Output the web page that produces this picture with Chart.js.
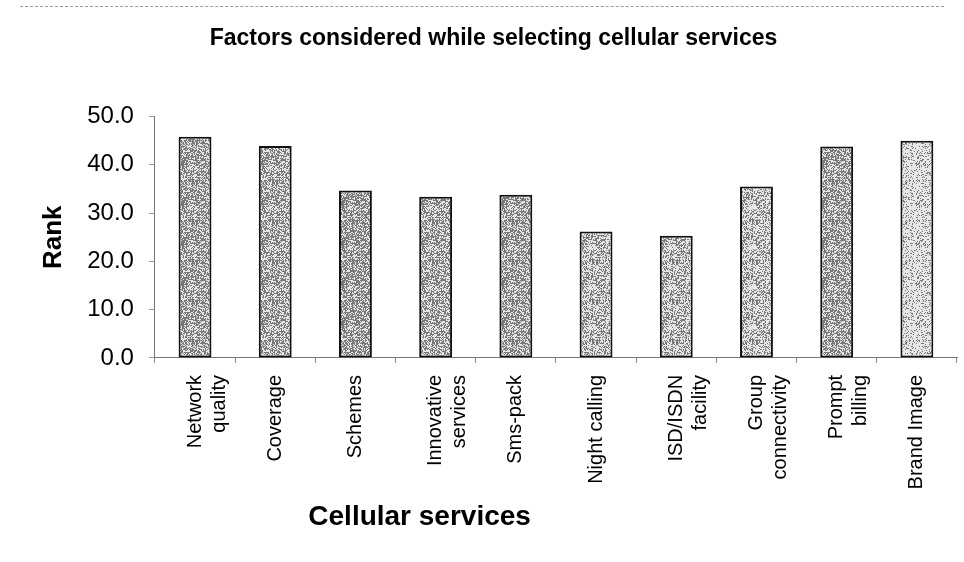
<!DOCTYPE html>
<html>
<head>
<meta charset="utf-8">
<script src="https://cdn.jsdelivr.net/npm/chart.js@4.4.1/dist/chart.umd.min.js"></script>
<style>
  html, body { margin: 0; padding: 0; background: #fff; }
  #wrap { position: relative; width: 964px; height: 562px; }
  #edge { position: absolute; left: 20px; right: 20px; top: 6px; border-top: 1px dashed #9a9a9a; }
</style>
</head>
<body>
<div id="wrap">
  <div id="edge"></div>
  <canvas id="chartCell" width="964" height="562"></canvas>
</div>
<script>
const categories = [
    ['Network', 'quality'], 'Coverage', 'Schemes', ['Innovative', 'services'], 'Sms-pack',
    'Night calling', ['ISD/ISDN', 'facility'], ['Group', 'connectivity'], ['Prompt', 'billing'], 'Brand Image'
];
const rankValues = [45.8, 43.9, 34.7, 33.4, 33.8, 26.2, 25.3, 35.5, 43.8, 45.0];
const yTicks = [0, 10, 20, 30, 40, 50];

// share of dark dots in each bar's stipple
const barShade = [0.55, 0.52, 0.58, 0.52, 0.55, 0.42, 0.42, 0.38, 0.55, 0.22];

// stippled grey fill, like a printed halftone
function stipple(darkness) {
    const c = document.createElement('canvas');
    c.width = 40; c.height = 40;
    const g = c.getContext('2d');
    const img = g.createImageData(40, 40);
    for (let y = 0; y < 40; y++) {
        for (let x = 0; x < 40; x++) {
            const h = (((x * 73856093) ^ (y * 19349663) ^ (x * y * 83492791)) >>> 0) % 1000 / 1000;
            const v = h < darkness ? 120 : 230;
            const i = (y * 40 + x) * 4;
            img.data[i] = img.data[i + 1] = img.data[i + 2] = v;
            img.data[i + 3] = 255;
        }
    }
    g.putImageData(img, 0, 0);
    return g.createPattern(c, 'repeat');
}

// the x axis title sits left of the plot centre, so it is drawn here
// in the space the (transparent) scale title keeps free
const xTitlePlugin = {
    id: 'xTitle',
    afterDraw(chart) {
        const sx = chart.scales.x;
        const { ctx, chartArea } = chart;
        ctx.save();
        ctx.font = 'bold 28px "Liberation Sans"';
        ctx.fillStyle = '#000';
        ctx.textAlign = 'center';
        ctx.textBaseline = 'middle';
        ctx.fillText('Cellular services', chartArea.left + (chartArea.right - chartArea.left) * 0.33, sx.bottom - 22);
        ctx.restore();
    }
};

const ctxCell = document.getElementById('chartCell').getContext('2d');
const fills = barShade.map(stipple);

const chartCell = new Chart(ctxCell, {
    type: 'bar',
    data: {
        labels: categories,
        datasets: [{
            label: 'Rank',
            data: rankValues,
            backgroundColor: fills,
            borderColor: '#111',
            borderWidth: 2,
            borderSkipped: false,
            barPercentage: 0.41,
            categoryPercentage: 1.0
        }]
    },
    plugins: [xTitlePlugin],
    options: {
        responsive: false,
        animation: false,
        layout: { padding: { left: 30, right: 7, top: 0, bottom: 23 } },
        plugins: {
            legend: { display: false },
            tooltip: { enabled: false },
            title: {
                display: true,
                text: 'Factors considered while selecting cellular services',
                color: '#000',
                font: { family: 'Liberation Sans', size: 23, weight: 'bold' },
                padding: { top: 25, bottom: 64 }
            }
        },
        scales: {
            x: {
                grid: {
                    display: true,
                    drawOnChartArea: false,
                    drawTicks: true,
                    tickLength: 5,
                    color: '#888'
                },
                border: { display: true, color: '#777', width: 1, dash: [3, 2] },
                ticks: {
                    autoSkip: false,
                    minRotation: 90,
                    maxRotation: 90,
                    padding: 12,
                    color: '#000',
                    font: { family: 'Liberation Sans', size: 20, lineHeight: 1.2 }
                },
                title: {
                    display: true,
                    text: 'Cellular services',
                    color: 'rgba(0,0,0,0)',
                    font: { family: 'Liberation Sans', size: 28, weight: 'bold' },
                    padding: { top: 0, bottom: 4 }
                }
            },
            y: {
                min: 0,
                max: 50,
                afterBuildTicks: (axis) => { axis.ticks = yTicks.map(v => ({ value: v })); },
                grid: {
                    display: true,
                    drawOnChartArea: false,
                    drawTicks: true,
                    tickLength: 6,
                    color: '#999'
                },
                border: { display: true, color: '#777', width: 1, dash: [3, 2] },
                ticks: {
                    padding: 15,
                    color: '#000',
                    font: { family: 'Liberation Sans', size: 24 },
                    callback: (v) => Number(v).toFixed(1)
                },
                title: {
                    display: true,
                    text: 'Rank',
                    color: '#000',
                    font: { family: 'Liberation Sans', size: 26, weight: 'bold' },
                    padding: { top: 8, bottom: 3 }
                }
            }
        }
    }
});
</script>
</body>
</html>
